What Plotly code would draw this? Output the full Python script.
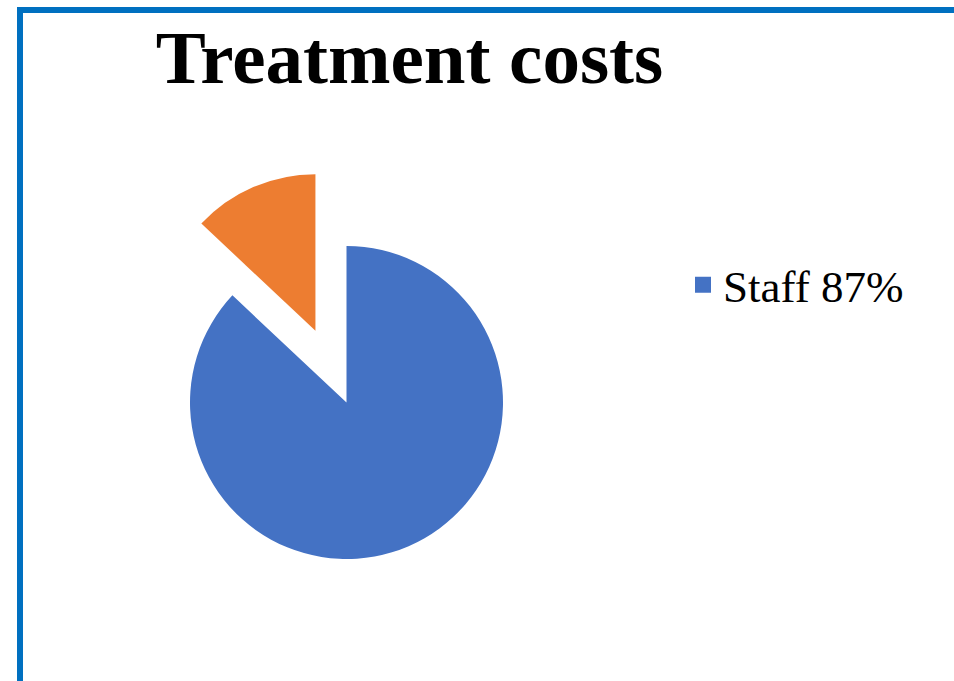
import plotly.graph_objects as go

labels = ["Staff", "Other"]
values = [87, 13]
colors = ["#4472C4", "#ED7D31"]
pulls = [0, 0.5]
title_text = "Treatment costs"

W, H = 954, 681
cx, cy, r = 346.5, 402.5, 156.5
box = r * (2 + 2 * max(pulls))

fig = go.Figure()
fig.add_trace(go.Pie(
    labels=labels, values=values, sort=False, direction="clockwise", rotation=0,
    marker=dict(colors=colors, line=dict(width=0)), pull=pulls,
    textinfo="none", hoverinfo="label+percent", showlegend=False,
    domain=dict(x=[(cx - box / 2) / W, (cx + box / 2) / W],
                y=[(H - cy - box / 2) / H, (H - cy + box / 2) / H]),
))
pct = round(100 * values[0] / sum(values))
fig.add_trace(go.Scatter(
    x=[None], y=[None], mode="markers", name=f"{labels[0]} {pct}%",
    marker=dict(symbol="square", size=16, color=colors[0]), showlegend=True,
))

fig.update_layout(
    width=W, height=H, margin=dict(l=0, r=0, t=0, b=0),
    paper_bgcolor="white", plot_bgcolor="white",
    xaxis=dict(visible=False), yaxis=dict(visible=False),
    title=dict(text=f"<b>{title_text}</b>", x=409.5 / W, xanchor="center",
               y=1 - 83 / H, yanchor="bottom",
               font=dict(family="Liberation Serif", size=75, color="black")),
    legend=dict(x=683 / W, xanchor="left", y=1 - 285 / H, yanchor="middle",
                font=dict(family="Liberation Serif", size=45, color="black"),
                bgcolor="rgba(0,0,0,0)"),
    shapes=[dict(type="rect", xref="paper", yref="paper",
                 x0=20 / W, x1=1.3, y0=-0.3, y1=1 - 10 / H,
                 line=dict(color="#0070C0", width=6), fillcolor="rgba(0,0,0,0)",
                 layer="above")],
)
fig.write_html("out.html", config={"displayModeBar": False},
               post_script="document.body.style.margin='0';document.body.style.overflow='hidden';")
